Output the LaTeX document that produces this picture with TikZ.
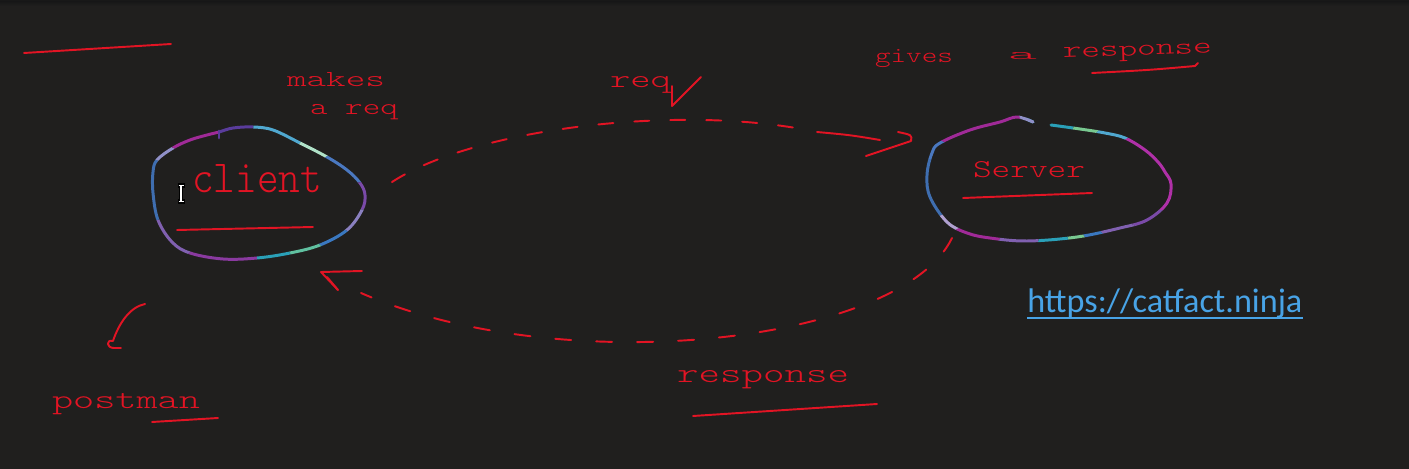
\documentclass[tikz,border=0pt]{standalone}
\usepackage{fontspec}
\usepackage{graphicx}
\newfontfamily\handfont{lmmonolt10-regular}[Extension=.otf]
\newfontfamily\linkfont{Carlito}
\newdimen\px \px=0.02cm
\definecolor{bg}{RGB}{32,31,30}
\definecolor{topbar}{RGB}{24,24,24}
\definecolor{hred}{RGB}{226,20,36}
\definecolor{linkc}{RGB}{72,163,230}
\definecolor{rpurple}{RGB}{90,60,156}
\definecolor{rcyan}{RGB}{80,168,208}
\definecolor{rlgreen}{RGB}{176,226,200}
\definecolor{rblue}{RGB}{74,120,192}
\definecolor{rviolet}{RGB}{122,74,168}
\definecolor{rlav}{RGB}{138,128,192}
\definecolor{rblue2}{RGB}{58,120,192}
\definecolor{rgreen}{RGB}{96,192,160}
\definecolor{rteal}{RGB}{42,160,184}
\definecolor{rplum}{RGB}{138,58,160}
\definecolor{rpl}{RGB}{128,96,176}
\definecolor{rblue3}{RGB}{63,110,176}
\definecolor{rgray}{RGB}{144,144,200}
\definecolor{rmag}{RGB}{160,42,152}
\definecolor{rmag2}{RGB}{176,48,168}
\definecolor{rgreen2}{RGB}{120,200,144}
\definecolor{rlight}{RGB}{176,160,208}
\newcommand\hw[3]{\resizebox{#1\px}{#2\px}{\handfont #3}}
\newcommand\clientring[1]{\draw[ring,draw=#1] plot[smooth cycle,tension=0.6] coordinates {(219,132) (233,128) (253,127) (273,130) (300,143) (327,157) (347,170) (360,183) (365,195) (362,210) (347,230) (320,245) (290,253) (257,258) (223,259) (190,253) (172,242) (158,220) (153,193) (153,172) (157,160) (173,148) (190,140) (207,135)};}
\newcommand\serverring[1]{\draw[ring,draw=#1] plot[smooth,tension=0.6] coordinates {(1051,125) (1080,129) (1105,133) (1125,138) (1145,150) (1158,162) (1165,172) (1171,184) (1167,203) (1147,220) (1120,228) (1077,237) (1027,241) (990,238) (967,233) (947,222) (930,197) (927,175) (932,153) (940,143) (970,130) (1000,122) (1017,117) (1033,122)};}
\newcommand\piece[5]{\begin{scope}\clip (#1) -- ([shift={(#2:400)}]#1) -- ([shift={({(#2+#3)/2}:400)}]#1) -- ([shift={(#3:400)}]#1) -- cycle; #5{#4}\end{scope}}
\begin{document}
\begin{tikzpicture}[x=0.02cm, y=-0.02cm, line cap=round, line join=round,
  hand/.style={text=hred, inner sep=0pt, outer sep=0pt, anchor=base west},
  ink/.style={draw=hred, line width=1.1pt},
  ring/.style={line width=1.7pt},
  dashreq/.style={ink, dash pattern=on 0.3cm off 0.42cm},
  dashres/.style={ink, dash pattern=on 0.32cm off 0.5cm}]
\useasboundingbox (0,0) rectangle (1409,469);
\fill[bg] (0,0) rectangle (1409,469);
\fill[topbar] (0,0) rectangle (1409,2);
\shade[top color=topbar, bottom color=bg] (0,2) rectangle (1409,6);

% rings
\coordinate (cc) at (258,193);
\coordinate (sc) at (1049,180);
\piece{cc}{237}{266}{rpurple}{\clientring}
\piece{cc}{266}{310}{rcyan}{\clientring}
\piece{cc}{310}{332}{rlgreen}{\clientring}
\piece{cc}{332}{354}{rblue}{\clientring}
\piece{cc}{354}{369}{rviolet}{\clientring}
\piece{cc}{9}{23}{rlav}{\clientring}
\piece{cc}{23}{40}{rblue2}{\clientring}
\piece{cc}{40}{62}{rgreen}{\clientring}
\piece{cc}{62}{91}{rteal}{\clientring}
\piece{cc}{91}{139}{rplum}{\clientring}
\piece{cc}{139}{165}{rpl}{\clientring}
\piece{cc}{165}{198}{rblue3}{\clientring}
\piece{cc}{198}{208}{rgray}{\clientring}
\piece{cc}{208}{237}{rmag}{\clientring}
\draw[ring, draw=rpurple] (219,131) -- (219,138);

\piece{sc}{250}{295}{rteal}{\serverring}
\piece{sc}{295}{315}{rgreen2}{\serverring}
\piece{sc}{315}{332}{rcyan}{\serverring}
\piece{sc}{332}{375}{rmag2}{\serverring}
\piece{sc}{15}{28}{rviolet}{\serverring}
\piece{sc}{28}{45}{rpl}{\serverring}
\piece{sc}{45}{58}{rblue2}{\serverring}
\piece{sc}{58}{72}{rgreen2}{\serverring}
\piece{sc}{72}{100}{rteal}{\serverring}
\piece{sc}{100}{130}{rpl}{\serverring}
\piece{sc}{130}{152}{rmag}{\serverring}
\piece{sc}{152}{162}{rlight}{\serverring}
\piece{sc}{162}{190}{rblue3}{\serverring}
\piece{sc}{190}{200}{rblue}{\serverring}
\piece{sc}{200}{245}{rmag}{\serverring}
\piece{sc}{245}{260}{rgray}{\serverring}

% labels
\node[hand] (client) at (192,193) {\hw{130}{28}{client}};
\node[hand] (server) at (973,178) {\hw{112}{16}{Server}};
\node[hand] (makes) at (287,87) {\hw{98}{14}{makes}};
\node[hand] (areq) at (310,115) {\hw{88}{10}{a req}};
\node[hand] (req) at (610,88) {\hw{61}{11}{req}};
\node[hand] (gives) at (875,63) {\hw{78}{13}{gives}};
\node[hand] (ga) at (1008,60) {\hw{29}{7}{a}};
\node[hand, rotate=2] (resp1) at (1063,58) {\hw{149}{10}{response}};
\node[hand] (resp2) at (677,382) {\hw{172}{12}{response}};
\node[hand] (postman) at (52,408) {\hw{148}{15}{postman}};
\node[anchor=base west, inner sep=0pt, text=linkc] (url) at (1027,313) {\resizebox{275\px}{!}{\linkfont https://catfact.ninja}};
\draw[linkc, line width=0.9pt, line cap=butt] ([yshift=-5\px]url.base west) -- ([yshift=-5\px]url.base east);

% underlines and strokes
\draw[ink] (24,53) -- (171,44);
\draw[ink] (177,230) -- (313,227);
\draw[ink] (963,198) -- (1092,193);
\draw[ink] (1092,73) .. controls (1150,70) .. (1195,66) -- (1198,63);
\draw[ink] (693,416) -- (877,404);
\draw[ink] (152,422) -- (218,418);
\draw[ink] (672,86) -- (672,106) -- (701,77);

% postman arrow
\coordinate (pa) at (145,304);
\draw[ink] (pa) .. controls (130,307) and (119,323) .. (113,341) .. controls (106,339) and (106,348) .. (114,348) -- (121,348);

% request arrow
\coordinate (reqS) at (392,182);
\coordinate (reqE) at (812,131);
\coordinate (reqM) at (817,132);
\coordinate (reqT) at (880,140);
\coordinate (reqTip) at (911,141);
\draw[dashreq] (reqS) .. controls (475,128) and (680,104) .. (reqE);
\draw[ink] (reqM) .. controls (850,135) .. (reqT);
\draw[ink] (898,132) .. controls (912,135) .. (reqTip) -- (866,156);

% response arrow
\coordinate (resS) at (952,238);
\coordinate (resE) at (361,293);
\coordinate (resTip) at (321,272);
\draw[dashres] (resS) .. controls (900,345) and (560,380) .. (resE);
\draw[ink] (362,271) -- (resTip) -- (338,290);
\draw[ink] (327,277) -- (338,290);

% text cursor
\draw[black, line width=2.4pt, line cap=butt] (181,185) -- (181,202) (177.5,185.5) -- (184.5,185.5) (177.5,201.5) -- (184.5,201.5);
\draw[white, line width=0.8pt, line cap=butt] (181,186) -- (181,201) (178.5,185.5) -- (183.5,185.5) (178.5,201.5) -- (183.5,201.5);
\end{tikzpicture}
\end{document}
